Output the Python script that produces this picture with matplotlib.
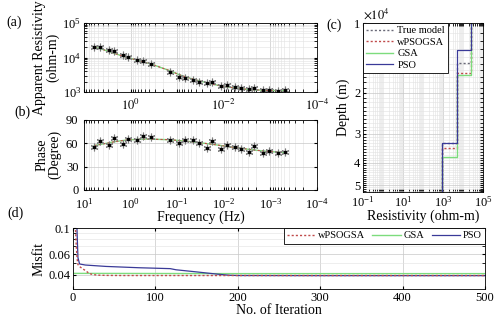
import numpy as np
import matplotlib.pyplot as plt
from matplotlib.ticker import FixedLocator, NullFormatter, FixedFormatter

plt.rcParams['font.family'] = ['Liberation Serif', 'DejaVu Serif']
plt.rcParams['mathtext.fontset'] = 'stix'
plt.rcParams['font.size'] = 9
plt.rcParams['xtick.direction'] = 'in'
plt.rcParams['ytick.direction'] = 'in'
plt.rcParams['axes.linewidth'] = 0.6

# (a), (b) sounding data
freq = [6.0, 4.5, 2.94, 2.22, 1.47, 1.11, 0.73, 0.54, 0.365, 0.14, 0.091, 0.069, 0.046,
        0.034, 0.0227, 0.0177, 0.0113, 0.0087, 0.0058, 0.0043, 0.0029, 0.0022, 0.00144,
        0.00107, 0.00068, 0.00048]
rho_obs = [20500, 20500, 16200, 15400, 11600, 10500, 8470, 7770, 6350, 3720, 2720, 2600,
           2230, 1950, 1790, 1910, 1520, 1600, 1430, 1330, 1220, 1310, 1120, 1170, 1090, 1120]
rho_gsa = [20000, 18200, 15000, 13200, 11000, 9900, 8400, 7500, 6500, 4100, 3200, 2800,
           2380, 2120, 1850, 1700, 1500, 1420, 1310, 1250, 1190, 1160, 1130, 1115, 1100, 1095]
phase_obs = [55.6, 62.9, 57.8, 67.2, 59.5, 65.1, 64.6, 69.0, 68.1, 64.6, 60.8, 64.6, 64.4,
             59.8, 54.0, 62.9, 52.7, 58.2, 55.3, 53.1, 49.2, 56.5, 47.2, 50.5, 47.2, 48.5]
phase_gsa = [57.0, 58.5, 60.5, 62.0, 63.5, 64.3, 65.0, 65.3, 65.3, 64.5, 63.5, 62.8, 61.8,
             60.8, 59.5, 58.7, 57.0, 56.0, 54.6, 53.6, 52.2, 51.3, 50.1, 49.4, 48.6, 48.1]

# (c) layered models: resistivity of 3 layers, 2 interface depths
model_names = ['True model', 'wPSOGSA', 'GSA', 'PSO']
model_rho = [[25000, 5000, 900], [25000, 5000, 900], [26000, 5300, 930], [24000, 4800, 870]]
model_depth = [[14800, 33000], [16400, 34700], [16800, 37700], [13100, 32800]]
depth_lim = [10000, 53500]

# (d) misfit curves
it_wpso = [1, 2, 3, 4, 5, 6, 8, 12, 16, 20, 25, 30, 40, 60, 100, 200, 300, 400, 500]
mis_wpso = [0.2, 0.15, 0.1, 0.07, 0.055, 0.049, 0.047, 0.045, 0.043, 0.041, 0.0402, 0.0398,
            0.0396, 0.0395, 0.0395, 0.0395, 0.0395, 0.0395, 0.0395]
it_gsa = [1, 100, 200, 300, 400, 500]
mis_gsa = [0.0412, 0.0411, 0.041, 0.041, 0.041, 0.041]
it_pso = [1, 2, 3, 4, 5, 6, 8, 15, 40, 80, 118, 125, 150, 175, 190, 200, 300, 400, 500]
mis_pso = [0.3, 0.25, 0.2, 0.15, 0.09, 0.056, 0.0495, 0.0485, 0.0472, 0.046, 0.0452, 0.0442,
           0.0424, 0.0406, 0.0397, 0.0395, 0.0394, 0.0394, 0.0394]

c_gsa = '#7ddc7d'
c_wpso = '#c04a4a'
c_pso = '#3a3a98'
c_true = '#6a6a78'
grid_major = dict(color='#c8c8c8', lw=0.5)
grid_minor = dict(color='#e2e2e2', lw=0.4)

fig = plt.figure(figsize=(5, 3.23), dpi=100)


def freq_axis(ax, labels):
    ax.set_xscale('log')
    ax.set_xlim(10, 1e-4)
    ax.xaxis.set_major_locator(FixedLocator([10.0 ** k for k in range(1, -5, -1)]))
    if labels == 'even':
        ax.set_xticklabels(['', r'$10^{0}$', '', r'$10^{-2}$', '', r'$10^{-4}$'])
    ax.grid(True, which='major', **grid_major)
    ax.grid(True, which='minor', axis='x', **grid_minor)
    ax.tick_params(which='both', top=True, right=True, length=2, labelsize=9, pad=2)
    ax.tick_params(axis='x', pad=4)


def add_obs(ax, y):
    ax.plot(freq, y, ls='none', marker=(6, 2, 0), ms=5.5, color='0.5', mew=0.8)
    ax.plot(freq, y, ls='none', marker='s', ms=1.8, color='k')


# (a)
ax_a = fig.add_axes([0.168, 0.715, 0.466, 0.2136])
ax_a.set_yscale('log')
ax_a.set_ylim(1e3, 1e5)
freq_axis(ax_a, 'even')
ax_a.grid(True, which='minor', axis='y', **grid_minor)
ax_a.plot(freq, rho_gsa, color=c_gsa, lw=1.0)
ax_a.plot(freq, rho_gsa, color=c_wpso, lw=0.8, ls=(0, (2, 2)))
add_obs(ax_a, rho_obs)
ax_a.set_ylabel('Apparent Resistivity\n(ohm-m)', fontsize=10, labelpad=2, linespacing=1.0)

# (b)
ax_b = fig.add_axes([0.168, 0.412, 0.466, 0.2167])
ax_b.set_ylim(0, 90)
ax_b.set_yticks([0, 30, 60, 90])
freq_axis(ax_b, 'all')
ax_b.tick_params(axis='y', pad=4)
ax_b.tick_params(axis='x', pad=5)
ax_b.plot(freq, phase_gsa, color=c_gsa, lw=1.0)
ax_b.plot(freq, phase_gsa, color=c_wpso, lw=0.8, ls=(0, (2, 2)))
add_obs(ax_b, phase_obs)
ax_b.set_ylabel('Phase\n(Degree)', fontsize=10, labelpad=3, linespacing=1.0)
ax_b.set_xlabel('Frequency (Hz)', fontsize=10, labelpad=-1)

# (c)
ax_c = fig.add_axes([0.726, 0.4056, 0.24, 0.523])
ax_c.set_xscale('log')
ax_c.set_yscale('log')
ax_c.set_xlim(1e-1, 1e5)
ax_c.set_ylim(depth_lim[1], depth_lim[0])
ax_c.xaxis.set_major_locator(FixedLocator([1e-1, 1e1, 1e3, 1e5]))
ax_c.xaxis.set_minor_locator(FixedLocator([m * 10.0 ** k for k in range(-1, 5) for m in range(1, 10)]))
ax_c.xaxis.set_minor_formatter(NullFormatter())
ax_c.yaxis.set_major_locator(FixedLocator([1e4, 2e4, 3e4, 4e4, 5e4]))
ax_c.yaxis.set_major_formatter(FixedFormatter(['1', '2', '3', '4', '5']))
ax_c.yaxis.set_minor_locator(FixedLocator(np.arange(11000, 53500, 1000)))
ax_c.yaxis.set_minor_formatter(NullFormatter())
ax_c.grid(True, which='major', **grid_major)
ax_c.grid(True, which='minor', **grid_minor)
ax_c.tick_params(which='both', top=True, right=True, length=2, labelsize=9, pad=2)
styles = [dict(color=c_true, ls=(0, (1.5, 1.5)), lw=1.0),
          dict(color=c_wpso, ls=(0, (1.5, 1.5)), lw=1.0),
          dict(color=c_gsa, ls='-', lw=1.0),
          dict(color=c_pso, ls='-', lw=0.9)]
for name, r, d, st in zip(model_names, model_rho, model_depth, styles):
    xs = [r[0], r[0], r[1], r[1], r[2], r[2]]
    ys = [depth_lim[0], d[0], d[0], d[1], d[1], depth_lim[1]]
    ax_c.plot(xs, ys, label=name, **st)
leg_c = ax_c.legend(loc='upper left', fontsize=7.5, frameon=True, fancybox=False,
                    edgecolor='k', framealpha=1, handlelength=2.6, borderpad=0.3,
                    labelspacing=0.2, borderaxespad=0.0, handletextpad=0.4)
leg_c.get_frame().set_linewidth(0.6)
ax_c.set_ylabel('Depth (m)', fontsize=10, labelpad=3)
ax_c.set_xlabel('Resistivity (ohm-m)', fontsize=10, labelpad=0)
ax_c.text(0.0, 1.01, r'$\times 10^{4}$', transform=ax_c.transAxes, fontsize=9,
          ha='left', va='bottom')

# (d)
ax_d = fig.add_axes([0.146, 0.105, 0.824, 0.189])
ax_d.set_yscale('log')
ax_d.set_xlim(0, 500)
ax_d.set_ylim(0.0303, 0.1)
ax_d.set_xticks([0, 100, 200, 300, 400, 500])
ax_d.yaxis.set_major_locator(FixedLocator([0.04, 0.06, 0.1]))
ax_d.yaxis.set_major_formatter(FixedFormatter(['0.04', '0.06', '0.1']))
ax_d.yaxis.set_minor_locator(FixedLocator([0.05, 0.07, 0.08, 0.09]))
ax_d.yaxis.set_minor_formatter(NullFormatter())
ax_d.grid(True, which='major', **grid_major)
ax_d.grid(True, which='minor', axis='y', **grid_minor)
ax_d.tick_params(which='both', top=True, right=True, length=2, labelsize=9, pad=2)
ax_d.plot(it_gsa, mis_gsa, color=c_gsa, lw=1.0, label='GSA')
ax_d.plot(it_pso, mis_pso, color=c_pso, lw=0.9, label='PSO')
ax_d.plot(it_wpso, mis_wpso, color=c_wpso, lw=1.0, ls=(0, (1.5, 1.5)), label='wPSOGSA')
h, l = ax_d.get_legend_handles_labels()
order = [2, 0, 1]
leg_d = ax_d.legend([h[i] for i in order], [l[i] for i in order], loc='upper right', ncol=3,
                    fontsize=7.5, frameon=True, fancybox=False, edgecolor='k', framealpha=1,
                    handlelength=2.7, borderpad=0.3, borderaxespad=0.0, columnspacing=0.7,
                    handletextpad=0.3)
leg_d.get_frame().set_linewidth(0.6)
ax_d.set_ylabel('Misfit', fontsize=10, labelpad=2)
ax_d.set_xlabel('No. of Iteration', fontsize=10, labelpad=0)

# panel letters
fig.text(14 / 500, 1 - 22 / 323, '(a)', fontsize=10, ha='center', va='center')
fig.text(22 / 500, 1 - 112 / 323, '(b)', fontsize=10, ha='center', va='center')
fig.text(334 / 500, 1 - 25 / 323, '(c)', fontsize=10, ha='center', va='center')
fig.text(15 / 500, 1 - 213 / 323, '(d)', fontsize=10, ha='center', va='center')

fig.savefig('out.png', dpi=100)
